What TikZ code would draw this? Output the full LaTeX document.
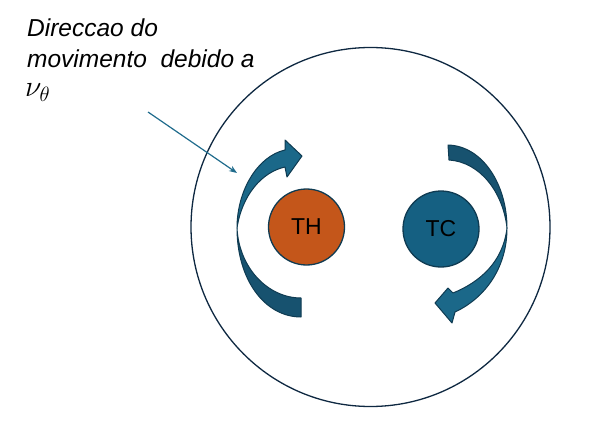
\documentclass[tikz,border=0pt]{standalone}
\usepackage{graphicx}
\usepackage{fontspec}
\setmainfont{Liberation Sans}
\usetikzlibrary{arrows.meta}
\definecolor{navy}{HTML}{0E2841}
\definecolor{thor}{HTML}{C4561A}
\definecolor{tcbl}{HTML}{156082}
\definecolor{arlt}{HTML}{1B6889}
\definecolor{ardk}{HTML}{17526F}
\definecolor{arln}{HTML}{0F3B52}
\definecolor{ptr}{HTML}{1F6B8C}
\begin{document}
\begin{tikzpicture}[x=1pt,y=-1pt,
  ball/.style={circle,draw=arln,line width=1.3pt,minimum size=76pt,inner sep=0pt,font=\fontsize{23}{26}\selectfont},
  band/.style={line width=1pt,draw=arln,line join=round},
  lbl/.style={anchor=base west,inner sep=0pt,font=\fontsize{24.5}{28}\selectfont\itshape},
  pointer/.style={draw=ptr,line width=1.2pt,-{Stealth[length=8pt,width=6pt]}}]
\useasboundingbox (0,0) rectangle (607,422);
\node[circle,draw=navy,line width=1.3pt,minimum size=359pt,inner sep=0pt] (ring) at (370.5,227) {};
\node[ball,fill=thor] (TH) at (306.5,227) {TH};
\node[ball,fill=tcbl] (TC) at (441,229) {TC};
% left curved arrow
\path[band,fill=ardk] (301,298) -- (301,317) .. controls (265,317) and (237,280) .. (237,228)
   .. controls (239,268) and (268,298) .. (301,298) -- cycle;
\path[band,fill=arlt] (237,228) .. controls (237,190) and (258,156) .. (285,150) -- (285,140) -- (302,156)
   -- (287,177) -- (285,167) .. controls (262,172) and (242,195) .. (237,228) -- cycle;
% right curved arrow
\path[band,fill=ardk] (448,145) .. controls (483,146) and (507,185) .. (507,228)
   .. controls (503,192) and (480,162) .. (449,160) -- cycle;
\path[band,fill=arlt] (507,228) .. controls (507,268) and (485,298) .. (455,312) -- (452,323) -- (435,303)
   -- (448,288) -- (453,293) .. controls (480,282) and (503,262) .. (507,228) -- cycle;
% label and pointer
\node[lbl] (t1) at (27,37) {Direccao do};
\node[lbl] (t2) at (27,68) {movimento\ \ debido a};
\node[lbl] (t3) at (25,97) {\scalebox{1.2}{$\nu_\theta$}};
\coordinate (p1) at (148,112);
\coordinate (p2) at (237,173);
\draw[pointer] (p1) -- (p2);
\end{tikzpicture}
\end{document}
